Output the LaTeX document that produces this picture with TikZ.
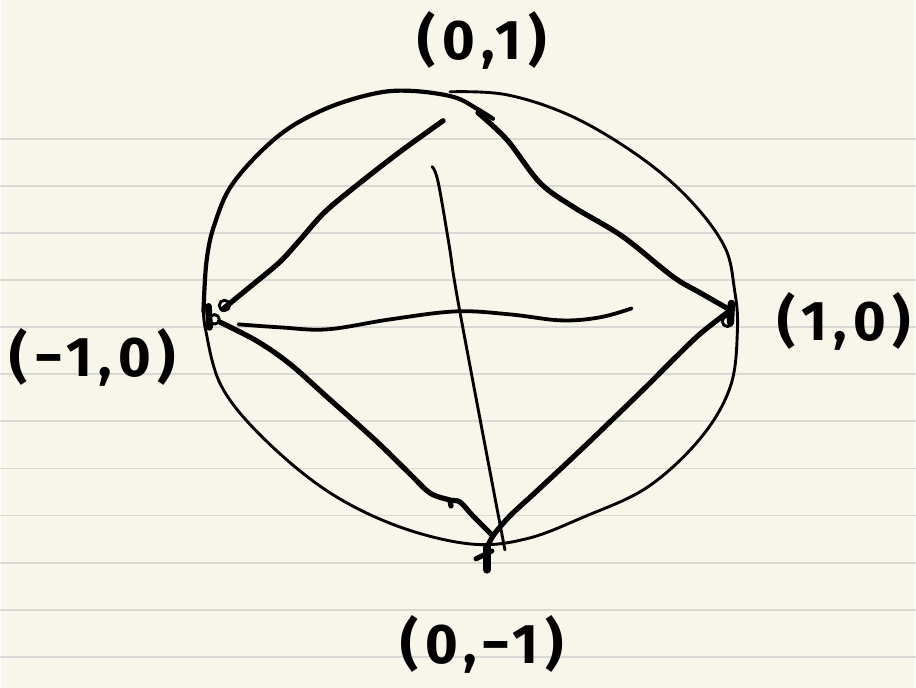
\documentclass[tikz,border=0pt]{standalone}
\usepackage{fontspec}
\newfontfamily\handfont[LetterSpace=12]{Fira Sans}
\definecolor{paper}{RGB}{248,246,235}
\definecolor{ruleline}{RGB}{216,216,213}
\begin{document}
\begin{tikzpicture}[x=0.5pt, y=-0.5pt, line cap=round, line join=round,
  pen/.style={line width=2.6pt},
  thinpen/.style={line width=1.45pt},
  rule/.style={ruleline, line width=0.9pt},
  hand/.style={font=\handfont\bfseries\fontsize{28}{28}\selectfont, inner sep=0pt, anchor=base}]
  % paper with ruled lines
  \fill[paper] (0,0) rectangle (916,689);
  \foreach \i in {0,...,11}
    \draw[rule] (0,139+47.2*\i) -- (916,139+47.2*\i);
  % the four points
  \coordinate (w) at (222,310);
  \coordinate (e) at (728,309);
  \coordinate (n) at (443,121);
  \coordinate (s) at (493,537);
  % circle, drawn in two strokes
  \draw[thinpen] plot[smooth, tension=0.6] coordinates {(450,92) (507,95) (573,117) (640,157) (690,200) (725,247) (735,290) (738,330) (731,387) (701,439) (648,488) (584,518) (526,540) (470,545) (397,527) (327,492) (263,439) (221,387) (205,330) (203,305)};
  \draw[line width=2.1pt] plot[smooth, tension=0.6] coordinates {(203,312) (206,262) (214,225) (233,183) (277,137) (323,110) (373,94) (410,91) (453,97) (477,109) (493,119)};
  % curved edges
  \draw[pen] plot[smooth, tension=0.55] coordinates {(w) (255,283) (280,262) (300,240) (325,212) (360,183) (400,152) (n)};
  \draw[pen] plot[smooth, tension=0.55] coordinates {(478,113) (507,140) (540,183) (573,207) (623,237) (673,277) (700,293) (e)};
  \draw[pen] plot[smooth, tension=0.55] coordinates {(220,323) (257,342) (290,365) (327,398) (374,440) (409,474) (430,494) (450,501) (460,503) (473,517) (s)};
  \draw[pen] plot[smooth, tension=0.55] coordinates {(728,313) (700,335) (672,362) (643,391) (584,448) (537,492) (510,517) (s) (487,550)};
  \draw[pen] (450,502) -- (451,507);
  % the two chords
  \draw[line width=1.9pt] plot[smooth, tension=0.6] coordinates {(238,325) (280,328) (327,330) (390,320) (456,312) (510,315) (561,321) (600,318) (632,309)};
  \draw[thinpen] plot[smooth, tension=0.6] coordinates {(432,167) (438,182) (449,245) (460,313) (505,551)};
  % dots at the points
  \draw[line width=3.4pt] (208,307) -- (209,328);
  \draw[thinpen] (224,306) circle[radius=2.6pt];
  \draw[thinpen] (214,320) circle[radius=2.4pt];
  \draw[line width=3.7pt] (732,304) -- (731,323);
  \draw[thinpen] (728,322) circle[radius=2.6pt];
  \draw[line width=3.7pt] (487,548) -- (487,571);
  \draw[line width=2.5pt] (476,560) -- (492,552);
  % labels
  \node[hand] (lblN) at (482,60) {(0,1)};
  \node[hand] (lblW) at (92,377) {(−1,0)};
  \node[hand] (lblE) at (845,341) {(1,0)};
  \node[hand] (lblS) at (482,665) {(0,−1)};
\end{tikzpicture}
\end{document}
